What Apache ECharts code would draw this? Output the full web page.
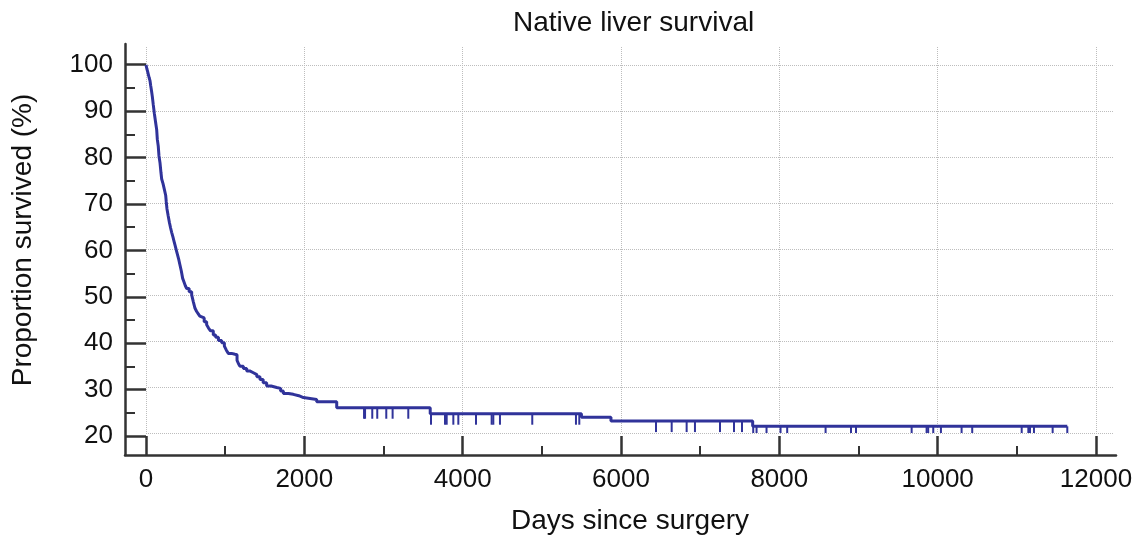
<!DOCTYPE html>
<html>
<head>
<meta charset="utf-8">
<script src="https://cdn.jsdelivr.net/npm/echarts@6/dist/echarts.min.js"></script>
<style>
  html, body { margin: 0; padding: 0; background: #fff; }
  #chart { width: 1141px; height: 540px; }
</style>
</head>
<body>
<div id="chart"></div>
<script>
// ---- Data ----
const stepDays = [0, 10, 20, 30, 40, 51, 59, 70, 80, 92, 105, 115, 122, 135, 143, 155, 164, 177, 189, 198,
  215, 231, 249, 256, 265, 280, 295, 310, 324, 340, 355, 370, 385, 400, 415, 429, 446, 463, 480, 497,
  514, 545, 577, 598, 619, 640, 660, 680, 703, 735, 766, 790, 815, 850, 880, 915, 956, 990, 1015, 1040,
  1080, 1124, 1150, 1170, 1187, 1230, 1272, 1310, 1356, 1400, 1440, 1480, 1524, 1580, 1651, 1700, 1735,
  1800, 1861, 1930, 1988, 2156, 2409, 3590, 5500, 5873, 7663, 11637];
const stepSurvival = [100, 99.2, 98.6, 97.9, 97.2, 96.5, 95.5, 94.3, 93.1, 91.3, 89.5, 88.3, 87.4, 85.9, 83.8, 82.3, 80.2, 78.7, 76.6, 75.2,
  74.2, 73.0, 71.6, 70.2, 68.7, 67.2, 65.8, 64.6, 63.6, 62.6, 61.6, 60.6, 59.6, 58.6, 57.6, 56.5, 55.2, 53.6, 52.8, 52.0,
  51.4, 50.7, 50.0, 48.5, 47.1, 46.4, 45.9, 45.4, 45.0, 44.2, 43.5, 42.8, 42.2, 41.3, 40.8, 40.1, 39.6, 38.9, 38.0, 37.3,
  37.1, 37.0, 35.8, 35.0, 34.5, 34.0, 33.5, 33.1, 32.7, 32.2, 31.6, 30.9, 30.2, 29.9, 29.7, 29.1, 28.6,
  28.4, 28.1, 27.7, 27.3, 26.8, 25.5, 24.2, 23.4, 22.6, 21.45, 21.45];
const censoredDays = [2754, 2767, 2858, 2921, 3035, 3115, 3313, 3600, 3777, 3798, 3882, 3945, 4168, 4366, 4387,
  4471, 4879, 5431, 5473, 6442, 6640, 6829, 6934, 7250, 7427, 7528, 7670, 7712, 7838, 8015, 8099, 8584,
  8905, 8968, 9671, 9860, 9880, 9944, 10041, 10302, 10436, 11061, 11145, 11166, 11216, 11452, 11637];
const xTicks = { min: 0, max: 12000, interval: 2000 };
const yTicks = { min: 20, max: 100, interval: 10 };
const xViewMax = 12227;   // plot area extends a bit past the last tick
const yViewMax = 103.88;

// ---- Build ----
function survivalAt(t) {
  let s = stepSurvival[0];
  for (let i = 0; i < stepDays.length; i++) { if (stepDays[i] <= t) s = stepSurvival[i]; else break; }
  return s;
}
const curveData = stepDays.map((d, i) => [d, stepSurvival[i]]);
const censorData = censoredDays.map(d => [d, survivalAt(d)]);

const FONT = 'Liberation Sans, Arial, sans-serif';
const LINE = '#30339a';
const AXIS = '#333333';
const TEXT = '#111111';
const GRIDC = '#bdbdbd';

const chart = echarts.init(document.getElementById('chart'), null, { renderer: 'canvas' });
chart.setOption({
  animation: false,
  backgroundColor: '#ffffff',
  title: {
    text: 'Native liver survival', left: 508, top: 4,
    textStyle: { fontFamily: FONT, fontSize: 28, fontWeight: 'normal', color: TEXT }
  },
  grid: [
    { left: 146, top: 47, width: 968, height: 389 },        // plot area (grid lines + data)
    { left: 146, top: 64.7, width: 950, height: 371.3 },    // tick axes
    { left: 125, top: 44, width: 991, height: 411 }         // long axis lines
  ],
  xAxis: [
    { gridIndex: 0, type: 'value', min: 0, max: xViewMax, interval: xTicks.interval, offset: 19,
      axisLine: { show: false }, axisTick: { show: false }, axisLabel: { show: false },
      splitLine: { show: true, showMaxLine: false, lineStyle: { type: 'dotted', color: GRIDC, width: 1 } },
      name: 'Days since surgery', nameLocation: 'middle', nameGap: 55,
      nameTextStyle: { fontFamily: FONT, fontSize: 28, color: TEXT } },
    { gridIndex: 1, type: 'value', min: xTicks.min, max: xTicks.max, interval: xTicks.interval, offset: 19,
      axisLine: { show: false, onZero: false },
      axisTick: { show: true, inside: true, length: 19, lineStyle: { color: AXIS, width: 2.5 } },
      minorTick: { show: true, splitNumber: 2, length: 9, lineStyle: { color: AXIS, width: 2 } },
      axisLabel: { fontFamily: FONT, fontSize: 26, color: TEXT, margin: 12, formatter: v => String(v) },
      splitLine: { show: false } },
    { gridIndex: 2, type: 'value', min: 0, max: 1,
      axisLine: { show: true, onZero: false, lineStyle: { color: AXIS, width: 2.5 } },
      axisTick: { show: false }, axisLabel: { show: false }, splitLine: { show: false } }
  ],
  yAxis: [
    { gridIndex: 0, type: 'value', min: yTicks.min, max: yViewMax, interval: yTicks.interval, offset: 21,
      axisLine: { show: false }, axisTick: { show: false }, axisLabel: { show: false },
      splitLine: { show: true, showMaxLine: false, lineStyle: { type: 'dotted', color: GRIDC, width: 1 } },
      name: 'Proportion survived (%)', nameLocation: 'middle', nameGap: 88,
      nameTextStyle: { fontFamily: FONT, fontSize: 28, color: TEXT } },
    { gridIndex: 1, type: 'value', min: yTicks.min, max: yTicks.max, interval: yTicks.interval, offset: 21,
      axisLine: { show: false, onZero: false },
      axisTick: { show: true, inside: true, length: 21, lineStyle: { color: AXIS, width: 2.5 } },
      minorTick: { show: true, splitNumber: 2, length: 10, lineStyle: { color: AXIS, width: 2 } },
      axisLabel: { fontFamily: FONT, fontSize: 26, color: TEXT, margin: 12, formatter: v => String(v) },
      splitLine: { show: false } },
    { gridIndex: 2, type: 'value', min: 0, max: 1,
      axisLine: { show: true, onZero: false, lineStyle: { color: AXIS, width: 2.5 } },
      axisTick: { show: false }, axisLabel: { show: false }, splitLine: { show: false } }
  ],
  series: [
    { type: 'line', xAxisIndex: 0, yAxisIndex: 0, step: 'end', data: curveData,
      showSymbol: false, symbol: 'none', lineStyle: { color: LINE, width: 3 }, z: 3 },
    { type: 'custom', xAxisIndex: 0, yAxisIndex: 0, data: censorData, z: 4,
      encode: { x: 0, y: 1 },
      renderItem: function (params, api) {
        const t = api.value(0), s = api.value(1);
        const p1 = api.coord([t, s]);
        const p2 = api.coord([t, Math.max(s - 2.4, yTicks.min)]);
        return { type: 'line', shape: { x1: p1[0], y1: p1[1], x2: p2[0], y2: p2[1] },
                 style: { stroke: LINE, lineWidth: 2 } };
      } }
  ]
});
</script>
</body>
</html>
